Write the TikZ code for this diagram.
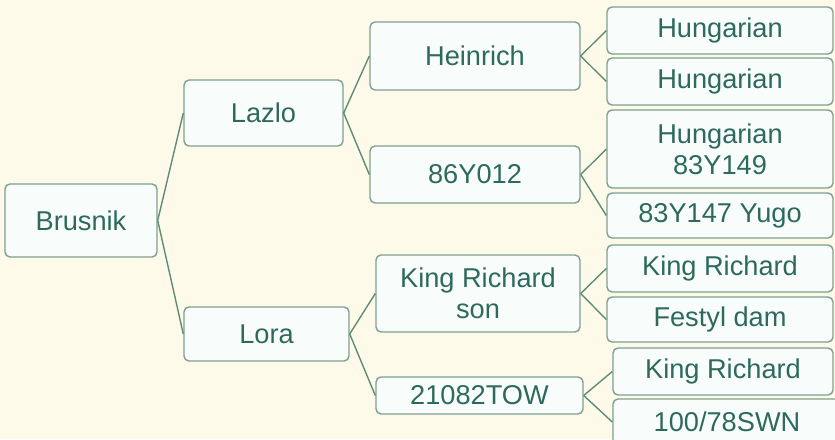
\documentclass[tikz,border=0pt]{standalone}
\usepackage{fontspec}
\setmainfont{Liberation Sans}
\definecolor{bgcream}{HTML}{FEFAE9}
\definecolor{boxline}{HTML}{7FA090}
\definecolor{boxfill}{HTML}{F8FDFB}
\definecolor{boxtext}{HTML}{2D6A5D}
\definecolor{linkline}{HTML}{5F8C7A}

\begin{document}
\begin{tikzpicture}[
            x=0.5pt,y=-0.5pt,
            box/.style={
              draw=boxline,
              line width=0.7pt,
              rounded corners=2.5pt,
              fill=boxfill,
              text=boxtext,
              font=\fontsize{13.6}{15.5}\selectfont,
              align=center,
              inner sep=0pt
            },
            link/.style={
              draw=linkline,
              line width=0.7pt
            }
            ]
            \fill[bgcream] (0,0) rectangle (835,439);
            \clip (0,0) rectangle (835,439);

            \node[box,minimum width=76pt,minimum height=36.5pt] at (81,220.5)
              (brusnik) {Brusnik};

            \node[box,minimum width=79.5pt,minimum height=33pt] at (263.5,113)
              (lazlo) {Lazlo};
            \node[box,minimum width=82.5pt,minimum height=27pt] at (266.5,334)
              (lora) {Lora};

            \node[box,minimum width=105pt,minimum height=34pt] at (475,56)
              (heinrich) {Heinrich};
            \node[box,minimum width=105pt,minimum height=28.5pt] at (475,174.5)
              (y86) {86Y012};
            \node[box,minimum width=102pt,minimum height=38.5pt] at (478,293.5)
              (krson) {King Richard\\son};
            \node[box,minimum width=103.5pt,minimum height=18.5pt] at (479.5,395.5)
              (tow) {21082TOW};

            \node[box,minimum width=113pt,minimum height=23.5pt] at (720,30.5)
              (hung1) {Hungarian};
            \node[box,minimum width=113pt,minimum height=23.5pt] at (720,81.5)
              (hung2) {Hungarian};
            \node[box,minimum width=113pt,minimum height=39pt] at (720,149)
              (hung3) {Hungarian\\83Y149};
            \node[box,minimum width=113pt,minimum height=22.5pt] at (720,215.5)
              (yugo) {83Y147 Yugo};
            \node[box,minimum width=113pt,minimum height=23.5pt] at (720,268.5)
              (kr1) {King Richard};
            \node[box,minimum width=113pt,minimum height=22.5pt] at (720,319.5)
              (festyl) {Festyl dam};
            \node[box,minimum width=110pt,minimum height=23.5pt] at (723,371.5)
              (kr2) {King Richard};
            \node[box,minimum width=114pt,minimum height=23pt] at (727,422)
              (swn) {100/78SWN};

            \draw[link] (brusnik.east) -- (lazlo.west);
            \draw[link] (brusnik.east) -- (lora.west);
            \draw[link] (lazlo.east) -- (heinrich.west);
            \draw[link] (lazlo.east) -- (y86.west);
            \draw[link] (lora.east) -- (krson.west);
            \draw[link] (lora.east) -- (tow.west);
            \draw[link] (heinrich.east) -- (hung1.west);
            \draw[link] (heinrich.east) -- (hung2.west);
            \draw[link] (y86.east) -- (hung3.west);
            \draw[link] (y86.east) -- (yugo.west);
            \draw[link] (krson.east) -- (kr1.west);
            \draw[link] (krson.east) -- (festyl.west);
            \draw[link] (tow.east) -- (kr2.west);
            \draw[link] (tow.east) -- (swn.west);
            \end{tikzpicture}
\end{document}
